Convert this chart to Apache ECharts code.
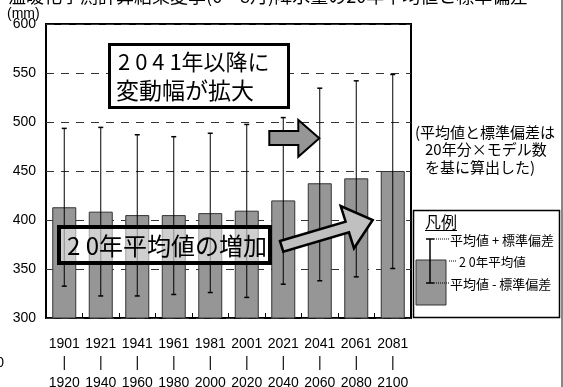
<!DOCTYPE html>
<html><head><meta charset="utf-8">
<script src="https://cdn.jsdelivr.net/npm/echarts@6/dist/echarts.min.js"></script>
<style>html,body{margin:0;padding:0;background:#fff;}#c{width:563px;height:387px;}</style>
</head><body><div id="c"></div>
<script>
const startYears = ['1901','1921','1941','1961','1981','2001','2021','2041','2061','2081'];
const endYears   = ['1920','1940','1960','1980','2000','2020','2040','2060','2080','2100'];
const means = [413, 408.5, 405, 405, 407, 409.5, 420, 437.5, 442.5, 450];
const upper = [493.5, 494.5, 487, 485, 488.5, 497.5, 504.5, 534.5, 542, 548.5];
const lower = [332.5, 322.5, 322.5, 324, 326, 321, 334.5, 338, 342, 350.5];
const yTicks = [300, 350, 400, 450, 500, 550, 600];

const LAT = "'Liberation Sans',Arial,sans-serif";
const CJK = "'Noto Sans CJK JP',sans-serif";
const categories = startYears.map((s, i) => s + '\n|\n' + endYears[i]);
const errData = means.map((m, i) => [i, lower[i], upper[i]]);

const chart = echarts.init(document.getElementById('c'), null, {renderer: 'canvas'});
chart.setOption({
  animation: false,
  grid: {left: 46, right: 152, top: 24, bottom: 69, show: true, borderColor: '#000', borderWidth: 2, backgroundColor: 'transparent', containLabel: false, outerBoundsMode: 'none'},
  xAxis: {
    type: 'category', data: categories,
    axisLine: {show: false},
    axisTick: {show: true, inside: true, length: 5, lineStyle: {color: '#000'}},
    axisLabel: {fontFamily: LAT, fontSize: 14, color: '#000', lineHeight: 19.5, margin: 16, interval: 0},
    splitLine: {show: false}
  },
  yAxis: {
    type: 'value', min: yTicks[0], max: yTicks[yTicks.length - 1], interval: 50,
    axisLine: {show: false}, axisTick: {show: false},
    axisLabel: {fontFamily: LAT, fontSize: 14, color: '#000', margin: 10},
    splitLine: {show: true, lineStyle: {color: '#333', width: 1, type: [8, 7]}}
  },
  series: [
    {
      type: 'bar', data: means, barWidth: 24, z: 2,
      itemStyle: {color: '#969696', borderColor: '#333', borderWidth: 1}
    },
    {
      type: 'custom', data: errData, z: 3,
      renderItem: function (params, api) {
        const x = api.value(0);
        const lo = api.coord([x, api.value(1)]);
        const hi = api.coord([x, api.value(2)]);
        const cw = 2.5;
        return {type: 'group', children: [
          {type: 'line', shape: {x1: hi[0], y1: hi[1], x2: lo[0], y2: lo[1]}, style: {stroke: '#000', lineWidth: 1}},
          {type: 'line', shape: {x1: hi[0] - cw, y1: hi[1], x2: hi[0] + cw, y2: hi[1]}, style: {stroke: '#000', lineWidth: 1.5}},
          {type: 'line', shape: {x1: lo[0] - cw, y1: lo[1], x2: lo[0] + cw, y2: lo[1]}, style: {stroke: '#000', lineWidth: 1.5}}
        ]};
      }
    }
  ],
  graphic: [
    {type: 'text', left: 8, top: -13, z: 10, style: {text: '温暖化予測計算結果夏季(6～8月)降水量の20年平均値と標準偏差', font: "18px " + CJK, fill: '#000'}},
    {type: 'text', x: 7, y: 14, z: 10, style: {text: '(mm)', font: "14px " + LAT, fill: '#000', verticalAlign: 'middle'}},
    {type: 'text', x: 4, y: 363, z: 10, style: {text: '0', font: "14px " + LAT, fill: '#000', align: 'right', verticalAlign: 'middle'}},
    {type: 'line', z: 10, shape: {x1: 562, y1: 0, x2: 562, y2: 387}, style: {stroke: '#888', lineWidth: 2}},
    {type: 'rect', z: 10, shape: {x: 109.5, y: 44.5, width: 179, height: 63}, style: {fill: '#fff', stroke: '#000', lineWidth: 3}},
    {type: 'text', x: 118, y: 62, z: 11, style: {text: '2 0 4 1年以降に', font: "22px " + CJK, fill: '#000', verticalAlign: 'middle'}},
    {type: 'text', x: 116, y: 90, z: 11, style: {text: '変動幅が拡大', font: "23px " + CJK, fill: '#000', verticalAlign: 'middle'}},
    {type: 'rect', z: 10, shape: {x: 59, y: 227, width: 211, height: 36}, style: {fill: 'rgba(255,255,255,0.55)', stroke: '#000', lineWidth: 4}},
    {type: 'text', x: 67, y: 246, z: 11, style: {text: '2 0年平均値の増加', font: "24px " + CJK, fill: '#000', verticalAlign: 'middle'}},
    {type: 'polygon', z: 10, shape: {points: [[269.3,131],[298.3,131],[298.3,120],[319.3,138.3],[298.3,156.7],[298.3,145],[269.3,145]]}, style: {fill: '#969696', stroke: '#000', lineWidth: 2}},
    {type: 'polygon', z: 10, shape: {points: [[280,241],[345.6,221.7],[340.7,206],[372.7,220],[354,248.3],[349,232.3],[283.3,251.7]]}, style: {fill: '#c0c0c0', stroke: '#000', lineWidth: 2.5}},
    {type: 'text', x: 415, y: 132, z: 10, style: {text: '(平均値と標準偏差は', font: "15px " + CJK, fill: '#000', verticalAlign: 'middle'}},
    {type: 'text', x: 425, y: 149.5, z: 10, style: {text: '20年分×モデル数', font: "15px " + CJK, fill: '#000', verticalAlign: 'middle'}},
    {type: 'text', x: 425, y: 167, z: 10, style: {text: 'を基に算出した)', font: "15px " + CJK, fill: '#000', verticalAlign: 'middle'}},
    {type: 'rect', z: 10, shape: {x: 413.5, y: 210.5, width: 146, height: 107}, style: {fill: '#fff', stroke: '#000', lineWidth: 1.5}},
    {type: 'text', x: 425, y: 222, z: 11, style: {text: '凡例', font: "16px " + CJK, fill: '#000', verticalAlign: 'middle'}},
    {type: 'line', z: 11, shape: {x1: 425, y1: 230.5, x2: 457, y2: 230.5}, style: {stroke: '#000', lineWidth: 1}},
    {type: 'rect', z: 11, shape: {x: 416, y: 260, width: 30, height: 45}, style: {fill: '#969696', stroke: '#333', lineWidth: 1}},
    {type: 'line', z: 12, shape: {x1: 430, y1: 239, x2: 430, y2: 283}, style: {stroke: '#000', lineWidth: 1.5}},
    {type: 'line', z: 12, shape: {x1: 426, y1: 239, x2: 434, y2: 239}, style: {stroke: '#000', lineWidth: 1.5}},
    {type: 'line', z: 12, shape: {x1: 426, y1: 283, x2: 434, y2: 283}, style: {stroke: '#000', lineWidth: 1.5}},
    {type: 'line', z: 12, shape: {x1: 434, y1: 239, x2: 450, y2: 239}, style: {stroke: '#000', lineWidth: 1, lineDash: [1, 1]}},
    {type: 'line', z: 12, shape: {x1: 449, y1: 261, x2: 456, y2: 261}, style: {stroke: '#000', lineWidth: 1, lineDash: [1, 1]}},
    {type: 'line', z: 12, shape: {x1: 434, y1: 283, x2: 450, y2: 283}, style: {stroke: '#000', lineWidth: 1, lineDash: [1, 1]}},
    {type: 'text', x: 450, y: 240, z: 11, style: {text: '平均値 + 標準偏差', font: "13px " + CJK, fill: '#000', verticalAlign: 'middle'}},
    {type: 'text', x: 459, y: 262, z: 11, style: {text: '2 0年平均値', font: "12.5px " + CJK, fill: '#000', verticalAlign: 'middle'}},
    {type: 'text', x: 450, y: 284, z: 11, style: {text: '平均値 - 標準偏差', font: "13px " + CJK, fill: '#000', verticalAlign: 'middle'}}
  ]
});
</script></body></html>
